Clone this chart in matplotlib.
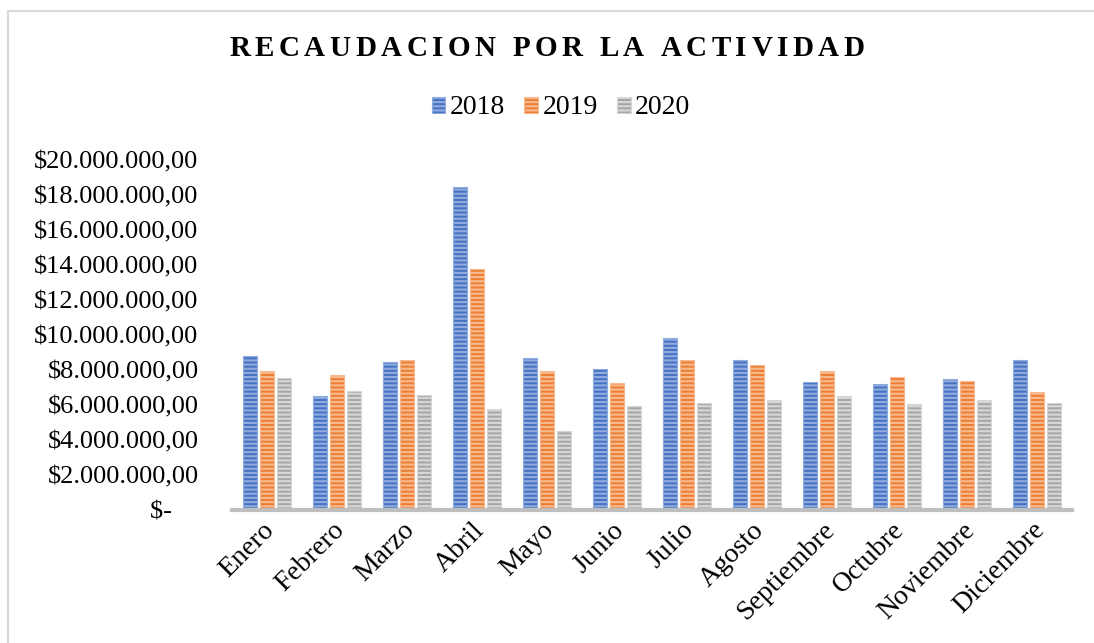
import numpy as np
import matplotlib.pyplot as plt
from matplotlib.patches import Rectangle

plt.rcParams['font.family'] = ['Liberation Serif', 'DejaVu Serif']
plt.rcParams['hatch.linewidth'] = 1.6

meses = ['Enero', 'Febrero', 'Marzo', 'Abril', 'Mayo', 'Junio', 'Julio',
         'Agosto', 'Septiembre', 'Octubre', 'Noviembre', 'Diciembre']
v2018 = [8.82, 6.51, 8.46, 18.46, 8.70, 8.04, 9.83, 8.55, 7.33, 7.22, 7.50, 8.57]
v2019 = [7.92, 7.71, 8.59, 13.75, 7.96, 7.24, 8.59, 8.29, 7.94, 7.60, 7.39, 6.76]
v2020 = [7.52, 6.78, 6.59, 5.79, 4.51, 5.92, 6.10, 6.27, 6.51, 6.04, 6.27, 6.10]
series = [('2018', v2018, '#4472C4', '#8FAADC'),
          ('2019', v2019, '#ED7D31', '#F6B98E'),
          ('2020', v2020, '#A5A5A5', '#D6D6D6')]
yticks = np.arange(0, 21, 2)
ylabels = ['$-    '] + ['$%s.000.000,00' % format(v, ',').replace(',', '.') for v in yticks[1:]]
titulo = 'RECAUDACION POR LA ACTIVIDAD'

fig = plt.figure(figsize=(10.94, 6.43), dpi=100)
ax = fig.add_axes([0.212, 0.207, 0.768, 0.544])

x = np.arange(len(meses))
w = 0.2
step = 0.243
for i, (name, vals, col, light) in enumerate(series):
    ax.bar(x + (i - 1) * step, np.array(vals) * 1e6, width=w, color=col,
           edgecolor=light, linewidth=0.8, hatch='----', label=name)

ax.set_xlim(-0.5, len(meses) - 0.5)
ax.set_ylim(0, 20e6)
ax.set_yticks(yticks * 1e6)
ax.set_yticklabels(ylabels, fontsize=19)
ax.set_xticks(x + 0.05)
ax.set_xticklabels(meses, rotation=45, ha='right', va='center',
                   rotation_mode='anchor', fontsize=20)
ax.tick_params(axis='y', length=0, pad=24)
ax.tick_params(axis='x', length=0, pad=12)
for s in ['top', 'right', 'left']:
    ax.spines[s].set_visible(False)
ax.spines['bottom'].set_color('#BFBFBF')
ax.spines['bottom'].set_linewidth(3)

# titulo con espaciado entre letras
r = fig.canvas.get_renderer()
track = 4.5
wordgap = 12
ws = []
for ch in titulo:
    if ch == ' ':
        ws.append(wordgap)
    else:
        t = fig.text(0, 0, ch, fontsize=21, fontweight='bold')
        ws.append(t.get_window_extent(r).width + track)
        t.remove()
total = sum(ws) - track
px = 1094 / 2 - total / 2
for ch, wd in zip(titulo, ws):
    if ch != ' ':
        fig.text(px / 1094, 1 - 48 / 643, ch, fontsize=21, fontweight='bold',
                 ha='left', va='center')
    px += wd

fig.legend(loc='center', bbox_to_anchor=(561 / 1094, 1 - 108 / 643), ncol=3, frameon=False,
           fontsize=20, handlelength=0.5, handleheight=0.5, handletextpad=0.15,
           columnspacing=0.7)

fig.patches.append(Rectangle((8 / 1094, -0.05), 1.1, 1 - 11 / 643 + 0.05,
                             transform=fig.transFigure, fill=False,
                             edgecolor='#D9D9D9', linewidth=1.5))

fig.savefig('out.png', dpi=100)
